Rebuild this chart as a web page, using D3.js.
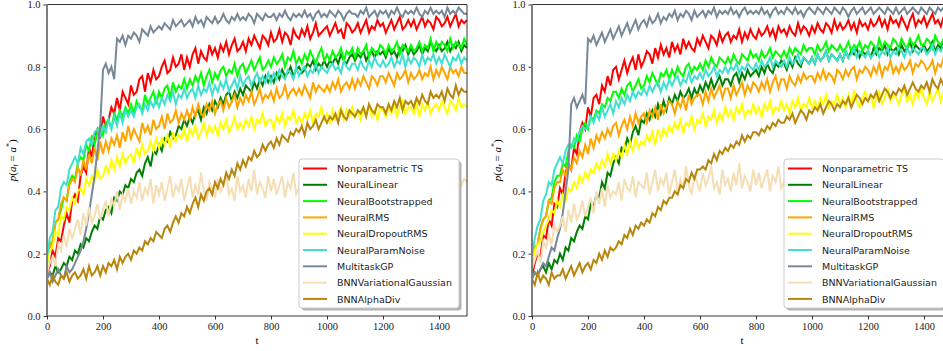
<!DOCTYPE html>
<html><head><meta charset="utf-8">
<script src="https://cdn.jsdelivr.net/npm/d3@7"></script>
<style>body{margin:0;background:#fff}svg{display:block}</style>
</head><body>
<svg id="chart" width="943" height="351"></svg>
<script>
// Runs are logged every 10 steps, t = 0 .. 1500
const T_STEP = 10;
const methods = ["Nonparametric TS","NeuralLinear","NeuralBootstrapped","NeuralRMS","NeuralDropoutRMS","NeuralParamNoise","MultitaskGP","BNNVariationalGaussian","BNNAlphaDiv"];
const colors = ["#ff0000","#008000","#00ff00","#ffa500","#ffff00","#40e0d0","#778899","#f5deb3","#b8860b"];
const xTicks = [0,200,400,600,800,1000,1200,1400];
const yTicks = [0.0,0.2,0.4,0.6,0.8,1.0];

// p(a_t = a*) in percent, first experiment
const leftNTS = [14,16,21,19,25,24,29,33,30,37, 39,37,45,48,46,54,51,58,60,57, 64,61,63,67,65,70,66,72,70,68, 74,71,72,76,77,72,78,75,79,76, 77,80,82,78,79,83,80,81,84,79, 83,80,84,86,81,85,83,82,87,84, 86,83,87,85,88,84,87,89,85,86, 88,85,89,87,90,88,86,90,89,87, 91,88,89,92,88,91,90,87,92,90, 89,92,90,93,89,91,94,90,91,92, 93,90,92,94,91,92,89,94,93,91, 92,94,91,93,95,91,93,92,95,93, 94,91,93,95,92,94,96,92,93,95, 93,95,92,94,96,93,95,94,92,96, 95,93,94,96,93,95,97,93,95,94, 95];
const leftLinear = [12,14,13,16,14,15,17,16,19,18, 21,20,23,22,25,24,27,29,28,32, 31,34,35,33,38,37,40,39,42,41, 44,43,46,47,45,49,51,48,53,52, 55,53,57,56,59,57,58,61,60,63, 61,64,62,65,66,63,67,65,68,66, 69,67,70,68,71,72,69,72,70,73, 71,74,73,72,75,73,76,74,77,75, 77,75,78,76,79,77,78,80,77,79, 80,78,79,81,80,82,79,81,80,82, 80,82,81,83,81,84,82,81,83,84, 82,84,83,85,82,84,85,83,85,84, 85,83,86,84,85,83,86,85,87,84, 86,84,85,87,84,86,85,88,86,85, 87,85,86,88,85,87,86,88,85,87, 86];
const leftBoot = [17,23,24,30,31,34,38,37,43,45, 44,49,51,50,55,53,58,55,59,61, 58,62,63,60,65,63,66,64,67,65, 68,65,69,67,66,71,68,70,72,68, 72,70,73,74,70,75,72,74,73,76, 73,76,74,77,75,78,74,77,79,75, 78,76,79,80,77,79,78,81,77,80, 81,78,80,82,79,81,83,79,80,82, 80,83,81,82,84,80,83,82,85,81, 83,81,84,82,85,83,81,84,86,82, 84,82,85,83,84,86,82,85,84,86, 83,86,84,85,87,83,86,85,84,87, 86,84,87,85,86,88,84,87,86,85, 87,85,86,88,85,87,86,89,85,88, 86,88,87,85,89,86,88,87,86,89, 87];
const leftRMS = [17,22,24,30,31,36,38,37,42,44, 43,48,45,50,47,52,49,54,50,56, 52,56,53,57,55,58,54,59,56,61, 57,60,58,56,62,59,61,58,63,60, 61,64,60,65,62,63,66,62,65,63, 66,63,67,64,68,65,64,68,66,69, 65,68,69,66,70,67,69,71,67,70, 68,71,69,72,68,70,73,69,71,70, 72,69,73,70,71,74,70,72,73,71, 73,71,74,72,70,75,72,74,73,72, 74,72,75,73,76,72,74,75,73,76, 73,76,74,77,75,73,77,76,74,77, 77,75,78,76,74,78,76,77,79,75, 78,76,77,79,76,78,77,80,76,79, 77,80,78,76,80,78,79,77,80,78, 78];
const leftDropout = [17,21,22,27,26,32,31,35,34,38, 36,40,41,39,44,42,45,43,47,44, 45,48,46,50,47,51,48,52,49,51, 52,49,54,51,55,52,53,56,53,57, 54,57,55,58,54,59,56,58,57,60, 56,60,58,61,57,59,62,58,61,59, 61,58,62,60,63,59,61,64,60,62, 60,63,61,64,60,63,62,65,61,63, 63,60,64,62,65,61,64,63,66,62, 64,62,65,63,66,62,65,64,67,63, 65,62,66,63,65,67,63,66,64,67, 64,66,63,67,65,68,64,66,63,67, 66,64,67,65,68,64,67,69,65,67, 67,65,68,64,68,66,69,65,67,68, 66,69,67,65,69,68,66,70,67,68, 67];
const leftNoise = [19,25,27,34,35,41,43,42,47,49, 51,49,54,52,56,57,55,59,60,58, 61,59,63,60,64,61,65,62,66,64, 66,64,67,68,65,68,66,69,67,70, 67,70,68,71,69,72,68,71,70,73, 70,72,73,70,74,71,73,72,75,71, 74,72,75,73,76,72,74,76,73,77, 74,76,77,74,76,78,75,77,75,78, 75,78,76,79,77,76,79,78,76,80, 77,79,80,77,79,78,81,78,80,79, 78,80,81,79,80,78,82,80,79,81, 81,79,82,80,79,82,80,83,81,80, 82,80,81,83,80,82,81,84,80,83, 81,83,82,80,84,81,83,82,84,81, 83,81,84,82,80,83,82,84,81,83, 82];
const leftGP = [12,14,11,13,15,13,12,16,14,15, 17,19,21,24,28,33,39,45,53,61, 79,81,78,80,76,89,88,90,87,90, 89,91,90,88,92,91,90,93,91,92, 93,92,94,93,92,95,93,94,95,93, 94,95,93,96,94,95,93,96,95,94, 96,94,95,97,95,94,96,95,97,95, 96,95,97,96,94,97,96,95,97,96, 96,97,95,97,96,98,96,95,97,96, 97,96,98,96,97,95,97,98,96,97, 96,98,97,96,98,97,95,97,98,97, 97,96,98,97,99,96,97,98,96,98, 97,98,96,98,97,99,97,96,98,97, 98,97,99,97,96,98,97,99,97,98, 97,98,96,99,97,98,97,99,98,97, 97];
const leftVarGauss = [14,17,19,16,23,21,26,22,28,25, 28,31,26,33,29,35,30,32,36,31, 34,37,32,38,35,40,34,39,37,41, 36,40,38,43,37,41,39,44,36,42, 39,43,37,41,45,38,42,40,44,37, 41,45,38,42,39,46,40,37,43,41, 38,44,40,42,46,39,41,37,45,40, 42,38,44,40,47,39,43,41,38,45, 40,44,39,42,45,38,43,41,46,39, 41,45,39,43,40,46,42,38,44,41, 39,44,42,46,40,43,38,45,41,44, 42,40,45,39,43,47,41,44,40,43, 40,45,42,44,39,46,41,43,47,40, 43,41,46,40,44,42,47,39,45,42, 41,46,40,44,43,47,41,45,42,44, 43];
const leftAlpha = [12,10,13,11,10,13,12,14,11,13, 14,12,13,15,12,16,13,14,16,13, 16,14,17,16,18,15,19,17,19,20, 18,21,20,22,21,24,23,25,24,27, 26,25,28,29,27,30,32,30,33,32, 35,33,36,38,35,39,37,40,41,39, 43,41,44,42,46,44,47,45,49,47, 50,48,51,50,53,51,52,55,53,55, 56,54,57,55,58,57,56,59,58,60, 59,61,58,62,60,61,63,60,62,64, 62,64,63,65,62,66,64,63,66,65, 64,66,65,67,64,68,66,65,68,67, 67,65,68,66,69,67,70,66,69,68, 69,67,70,68,71,69,68,72,70,71, 70,72,69,73,71,70,74,71,73,72, 72];

// p(a_t = a*) in percent, second experiment
const rightNTS = [13,17,20,19,26,25,31,29,36,35, 41,39,46,49,47,54,52,59,62,60, 67,64,70,71,68,74,72,77,74,79, 80,76,79,82,78,81,83,79,84,80, 82,85,84,81,86,83,87,84,86,83, 88,85,87,84,89,86,88,86,85,89, 87,90,88,86,90,89,87,91,88,90, 91,88,90,89,92,88,91,89,92,90, 89,92,90,91,93,90,92,89,93,91, 92,90,93,91,90,94,91,93,92,90, 93,91,94,92,91,94,93,91,95,92, 94,92,93,95,92,94,91,95,93,94, 92,95,93,94,96,93,95,92,96,94, 95,93,96,94,92,95,97,93,95,94, 96,93,95,97,94,95,93,96,95,97, 95];
const rightLinear = [12,14,13,15,16,14,17,15,18,17, 20,18,22,21,25,24,27,29,28,32, 31,36,35,39,38,43,41,46,45,49, 51,49,54,53,57,55,59,61,58,63, 62,65,63,66,64,68,65,69,66,70, 68,71,69,72,70,71,73,70,73,71, 74,72,75,73,76,73,75,77,74,76, 76,74,77,78,75,78,76,79,77,78, 79,77,80,78,81,79,78,81,80,82, 81,79,82,80,83,81,80,83,82,81, 83,81,84,82,83,85,82,84,83,82, 84,82,85,83,85,84,86,83,85,84, 85,83,86,84,86,85,87,84,86,85, 86,84,87,85,86,88,85,87,86,85, 87,85,86,88,85,87,86,88,85,87, 86];
const rightBoot = [18,22,23,28,31,32,37,38,43,45, 45,49,48,53,55,54,58,56,60,62, 60,64,63,66,65,68,67,70,69,72, 72,70,73,71,74,75,72,74,76,73, 74,77,75,78,76,74,78,77,79,76, 79,77,80,78,77,80,81,78,80,79, 81,79,82,80,83,81,80,83,82,81, 83,81,84,82,81,84,83,82,85,83, 84,82,85,83,84,86,83,85,84,83, 85,83,86,84,86,85,84,87,85,86, 86,84,87,85,86,88,85,87,86,85, 87,85,86,88,85,87,86,88,85,87, 86,88,87,85,89,86,88,87,86,89, 88,86,89,87,86,89,87,88,90,87, 87,89,88,86,90,88,87,89,88,90, 88];
const rightRMS = [17,22,23,28,31,32,37,36,41,43, 43,47,45,49,47,51,49,53,51,55, 52,57,54,58,56,59,57,60,58,61, 62,58,61,63,60,64,61,65,62,64, 65,62,66,64,67,63,68,65,67,69, 68,65,69,67,70,66,71,68,70,71, 71,68,72,69,73,70,72,74,70,73, 73,70,74,71,73,75,71,74,72,75, 74,72,75,73,76,72,75,77,73,76, 76,73,77,75,74,77,75,78,76,77, 77,75,78,76,79,76,78,77,75,79, 78,76,79,77,79,80,76,79,78,80, 79,77,80,78,81,77,80,79,82,78, 80,78,81,79,80,82,78,81,80,82, 81,79,80,82,78,81,80,83,79,81, 80];
const rightDropout = [17,21,23,24,27,29,31,34,33,37, 35,39,37,41,40,43,41,45,43,46, 44,47,46,49,47,50,48,52,49,52, 50,53,51,55,52,56,53,57,54,56, 55,58,56,59,55,60,57,60,58,61, 59,62,60,63,59,62,61,64,60,63, 62,65,61,64,63,66,62,65,63,67, 64,66,63,67,65,68,64,66,65,68, 65,67,64,68,66,69,65,67,66,69, 66,68,65,69,67,70,66,68,67,70, 67,69,66,70,68,71,67,69,68,71, 68,70,67,71,68,72,69,67,70,72, 69,71,67,70,72,68,70,73,69,71, 70,68,71,73,69,71,68,72,70,73, 70,68,72,69,71,73,69,72,70,71, 70];
const rightNoise = [19,25,29,31,37,39,43,42,47,49, 51,49,53,55,54,57,56,59,61,60, 61,64,62,65,63,67,64,66,68,65, 69,67,70,68,71,69,72,70,72,71, 73,71,74,72,74,75,72,75,73,76, 74,76,77,74,76,75,78,75,77,76, 78,76,79,77,78,80,77,79,78,80, 78,80,79,81,78,80,79,81,80,79, 81,79,82,80,81,83,80,82,81,80, 82,80,83,81,82,84,81,83,82,81, 83,81,84,82,83,85,82,84,83,82, 84,82,85,83,84,86,83,85,84,83, 85,83,84,86,83,85,84,86,83,85, 84,86,85,83,86,84,86,85,84,86, 86,84,85,87,84,86,85,87,84,86, 85];
const rightGP = [12,14,13,15,17,16,19,22,21,25, 28,33,40,47,68,70,67,69,71,68, 89,88,90,87,89,91,88,90,92,89, 91,93,90,92,94,91,93,95,92,94, 95,93,96,94,95,97,94,96,95,97, 96,98,95,97,96,98,97,95,98,96, 97,98,96,98,97,99,96,98,97,98, 97,99,97,98,96,98,99,97,98,97, 98,97,99,97,98,96,98,99,97,98, 97,99,98,97,99,97,98,96,98,99, 98,97,99,98,97,99,98,97,99,98, 97,99,98,96,98,99,97,98,99,97, 98,99,97,98,99,98,97,99,98,97, 99,97,98,99,97,98,99,98,97,99, 98,97,99,98,97,99,98,99,97,98, 98];
const rightVarGauss = [15,18,21,17,24,22,26,23,29,27, 29,32,27,34,30,36,31,33,37,32, 35,38,33,40,36,41,35,42,38,40, 39,43,37,44,41,40,45,38,43,42, 41,46,39,43,47,40,44,42,46,39, 43,47,40,44,41,48,42,39,45,43, 40,46,42,44,48,41,43,39,47,42, 44,40,46,42,49,41,45,43,40,47, 42,46,41,44,47,40,45,43,48,41, 43,47,41,45,42,48,44,40,46,43, 41,46,44,48,42,45,40,47,43,46, 44,42,47,41,45,49,43,46,42,45, 42,47,44,46,41,48,43,45,49,42, 45,43,48,42,46,44,49,41,47,44, 43,48,42,46,45,49,43,47,44,46, 44];
const rightAlpha = [12,10,14,11,13,12,10,14,12,13, 13,15,12,14,16,13,15,17,14,16, 17,15,18,17,20,18,21,19,22,21, 22,24,23,26,25,28,26,29,28,30, 29,31,30,33,32,35,34,37,36,38, 38,40,39,42,41,44,43,46,44,47, 47,48,47,50,49,52,50,53,52,54, 53,55,54,56,55,58,56,58,57,59, 59,58,60,59,61,60,62,61,63,62, 62,64,63,65,62,64,66,65,63,66, 65,67,66,68,65,67,69,68,66,68, 67,69,68,70,67,69,71,70,68,70, 69,71,70,72,69,71,73,72,70,72, 71,73,72,74,71,73,75,73,72,74, 73,75,72,76,74,73,76,74,75,73, 74];

const panels = [
  {left: 47,  series: [leftNTS,leftLinear,leftBoot,leftRMS,leftDropout,leftNoise,leftGP,leftVarGauss,leftAlpha]},
  {left: 532, series: [rightNTS,rightLinear,rightBoot,rightRMS,rightDropout,rightNoise,rightGP,rightVarGauss,rightAlpha]}
];

const W = 420, H = 311.5, TOP = 4.5;
const svg = d3.select("#chart");
const x = d3.scaleLinear().domain([0, 1500]).range([0, W]);
const y = d3.scaleLinear().domain([0, 1]).range([H, 0]);
const line = d3.line().x((d, i) => x(i * T_STEP)).y(d => y(d / 100));

panels.forEach((p, pi) => {
  const g = svg.append("g").attr("transform", `translate(${p.left},${TOP})`);
  const clipId = "clip" + pi;
  g.append("clipPath").attr("id", clipId).append("rect").attr("width", W).attr("height", H);

  const plot = g.append("g").attr("clip-path", `url(#${clipId})`);
  p.series.forEach((vals, si) => {
    plot.append("path").datum(vals)
      .attr("fill", "none").attr("stroke", colors[si])
      .attr("stroke-width", 2).attr("stroke-linejoin", "miter")
      .attr("d", line);
  });

  // axes
  const xa = g.append("g").attr("transform", `translate(0,${H})`)
    .call(d3.axisBottom(x).tickValues(xTicks).tickSize(3.5).tickPadding(3).tickFormat(d3.format("d")));
  const ya = g.append("g")
    .call(d3.axisLeft(y).tickValues(yTicks).tickSize(3.5).tickPadding(3).tickFormat(d3.format(".1f")));
  [xa, ya].forEach(a => {
    a.select(".domain").remove();
    a.selectAll(".tick line").attr("stroke", "#000").attr("stroke-width", 0.8);
    a.selectAll(".tick text").attr("font-family", "'Liberation Serif', serif").attr("font-size", 10.5).attr("fill", "#222");
  });

  // spines
  const sp = g.append("g").attr("fill", "none");
  sp.append("line").attr("x1", 0).attr("x2", W).attr("y1", 0).attr("y2", 0).attr("stroke", "#000").attr("stroke-width", 0.8);
  sp.append("line").attr("x1", 0).attr("x2", W).attr("y1", H).attr("y2", H).attr("stroke", "#000").attr("stroke-width", 0.8);
  sp.append("line").attr("x1", W).attr("x2", W).attr("y1", 0).attr("y2", H).attr("stroke", "#000").attr("stroke-width", 0.8);
  sp.append("line").attr("x1", 0).attr("x2", 0).attr("y1", 0).attr("y2", H).attr("stroke", "#7f7f7f").attr("stroke-width", 2);

  // axis titles
  g.append("text").attr("x", W / 2).attr("y", 339)
    .attr("text-anchor", "middle").attr("font-family", "'Liberation Serif', serif").attr("font-size", 11).text("t");
  const yl = g.append("text").attr("transform", `translate(-31,${H / 2}) rotate(-90)`)
    .attr("text-anchor", "middle").attr("font-family", "'Liberation Serif', serif").attr("font-style", "italic").attr("font-size", 11);
  yl.append("tspan").text("p");
  yl.append("tspan").attr("font-style", "normal").text("(");
  yl.append("tspan").text("a");
  yl.append("tspan").attr("font-size", 8).attr("dy", 2).text("t");
  yl.append("tspan").attr("dy", -2).attr("font-style", "normal").text(" = ");
  yl.append("tspan").text("a");
  yl.append("tspan").attr("font-size", 8).attr("dy", -4).attr("font-style", "normal").text("*");
  yl.append("tspan").attr("dy", 4).attr("font-style", "normal").text(")");

  // legend
  const lg = g.append("g").attr("transform", "translate(252,154.5)");
  const LW = 160, LH = 149;
  lg.append("rect").attr("x", 2.5).attr("y", 2.5).attr("width", LW).attr("height", LH).attr("rx", 3).attr("fill", "#b3b3b3");
  lg.append("rect").attr("width", LW).attr("height", LH).attr("rx", 3).attr("fill", "#fff").attr("stroke", "#cccccc").attr("stroke-width", 1);
  methods.forEach((m, i) => {
    const yy = 9.5 + i * 16.3;
    lg.append("line").attr("x1", 4).attr("x2", 28).attr("y1", yy).attr("y2", yy)
      .attr("stroke", colors[i]).attr("stroke-width", 2);
    lg.append("text").attr("x", 38).attr("y", yy + 3.6)
      .attr("font-family", "'DejaVu Sans', sans-serif").attr("font-size", 9.5).attr("fill", "#222").text(m);
  });
});
</script>
</body></html>
